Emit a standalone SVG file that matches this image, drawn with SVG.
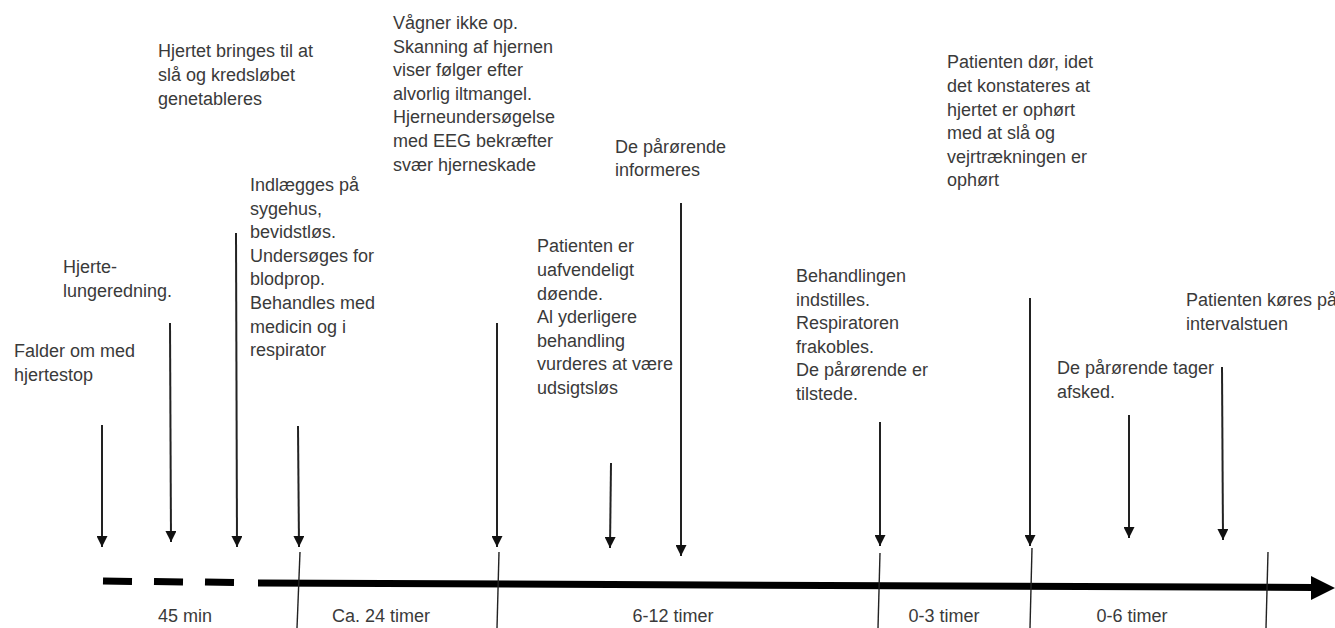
<svg xmlns="http://www.w3.org/2000/svg" width="1335" height="628" viewBox="0 0 1335 628">
<defs>
<style>
text{font-family:"Liberation Sans",Arial,sans-serif;font-size:18px;fill:#3a3a3a}
.arr{stroke:#222;stroke-width:2;fill:none;marker-end:url(#ah)}
.tick{stroke:#222;stroke-width:1.4;fill:none}
.dash{stroke:#000;stroke-width:7;fill:none}
</style>
<marker id="ah" viewBox="0 0 10 10" refX="10" refY="5" markerWidth="11" markerHeight="11" markerUnits="userSpaceOnUse" orient="auto">
<path d="M0,0 L10,5 L0,10 z" fill="#111"/>
</marker>
</defs>
<rect width="1335" height="628" fill="#fff"/>

<g id="timeline">
<line class="dash" x1="103" y1="581" x2="132" y2="581.5"/>
<line class="dash" x1="154" y1="581.5" x2="183" y2="582"/>
<line class="dash" x1="205" y1="582" x2="234" y2="582.5"/>
<line class="dash" x1="258" y1="583" x2="1314" y2="587.5"/>
<polygon points="1311,576 1335,588 1311,600" fill="#000"/>
</g>

<g id="ticks">
<line class="tick" x1="300" y1="552" x2="297" y2="628"/>
<line class="tick" x1="499" y1="552" x2="497" y2="628"/>
<line class="tick" x1="880" y1="553" x2="878" y2="628"/>
<line class="tick" x1="1032" y1="548" x2="1030" y2="628"/>
<line class="tick" x1="1268" y1="552" x2="1266" y2="628"/>
</g>

<g id="connectors">
<line class="arr" x1="102" y1="425" x2="102" y2="547"/>
<line class="arr" x1="170" y1="323" x2="171" y2="542"/>
<line class="arr" x1="236" y1="233" x2="237" y2="547"/>
<line class="arr" x1="298" y1="426" x2="299" y2="547"/>
<line class="arr" x1="497" y1="323" x2="497" y2="547"/>
<line class="arr" x1="611" y1="463" x2="610" y2="548"/>
<line class="arr" x1="681" y1="203" x2="681" y2="556"/>
<line class="arr" x1="880" y1="422" x2="880" y2="546"/>
<line class="arr" x1="1030" y1="298" x2="1030" y2="546"/>
<line class="arr" x1="1129" y1="415" x2="1129" y2="538"/>
<line class="arr" x1="1222" y1="367" x2="1223" y2="540"/>
</g>

<g id="n-falder">
<text x="14" y="357">Falder om med</text>
<text x="14" y="381">hjertestop</text>
</g>

<g id="n-hlr">
<text x="63" y="273">Hjerte-</text>
<text x="63" y="297">lungeredning.</text>
</g>

<g id="n-hjertet">
<text x="158" y="57">Hjertet bringes til at</text>
<text x="158" y="81">slå og kredsløbet</text>
<text x="158" y="105">genetableres</text>
</g>

<g id="n-indlaegges">
<text x="250" y="191">Indlægges på</text>
<text x="250" y="214.5">sygehus,</text>
<text x="250" y="238">bevidstløs.</text>
<text x="250" y="261.5">Undersøges for</text>
<text x="250" y="285">blodprop.</text>
<text x="250" y="309">Behandles med</text>
<text x="250" y="332.5">medicin og i</text>
<text x="250" y="356">respirator</text>
</g>

<g id="n-vaagner">
<text x="393" y="29">Vågner ikke op.</text>
<text x="393" y="52.6">Skanning af hjernen</text>
<text x="393" y="76.2">viser følger efter</text>
<text x="393" y="99.8">alvorlig iltmangel.</text>
<text x="393" y="123.4">Hjerneundersøgelse</text>
<text x="393" y="147">med EEG bekræfter</text>
<text x="393" y="170.6">svær hjerneskade</text>
</g>

<g id="n-informeres">
<text x="615" y="152.5">De pårørende</text>
<text x="615" y="176">informeres</text>
</g>

<g id="n-uafvendeligt">
<text x="537" y="252.3">Patienten er</text>
<text x="537" y="276">uafvendeligt</text>
<text x="537" y="299.5">døende.</text>
<text x="537" y="323">Al yderligere</text>
<text x="537" y="346.7">behandling</text>
<text x="537" y="370.3">vurderes at være</text>
<text x="537" y="394">udsigtsløs</text>
</g>

<g id="n-behandlingen">
<text x="796" y="282">Behandlingen</text>
<text x="796" y="305.6">indstilles.</text>
<text x="796" y="329.2">Respiratoren</text>
<text x="796" y="352.8">frakobles.</text>
<text x="796" y="376.4">De pårørende er</text>
<text x="796" y="400">tilstede.</text>
</g>

<g id="n-doer">
<text x="947" y="68.3">Patienten dør, idet</text>
<text x="947" y="92">det konstateres at</text>
<text x="947" y="115.5">hjertet er ophørt</text>
<text x="947" y="139">med at slå og</text>
<text x="947" y="162.7">vejrtrækningen er</text>
<text x="947" y="186.3">ophørt</text>
</g>

<g id="n-afsked">
<text x="1057" y="373.5">De pårørende tager</text>
<text x="1057" y="397.5">afsked.</text>
</g>

<g id="n-koeres">
<text x="1186" y="306">Patienten køres på</text>
<text x="1186" y="329.6">intervalstuen</text>
</g>

<g id="durations">
<text x="185" y="622" text-anchor="middle">45 min</text>
<text x="381" y="622" text-anchor="middle">Ca. 24 timer</text>
<text x="673" y="622" text-anchor="middle">6-12 timer</text>
<text x="944" y="622" text-anchor="middle">0-3 timer</text>
<text x="1132" y="622" text-anchor="middle">0-6 timer</text>
</g>
</svg>
